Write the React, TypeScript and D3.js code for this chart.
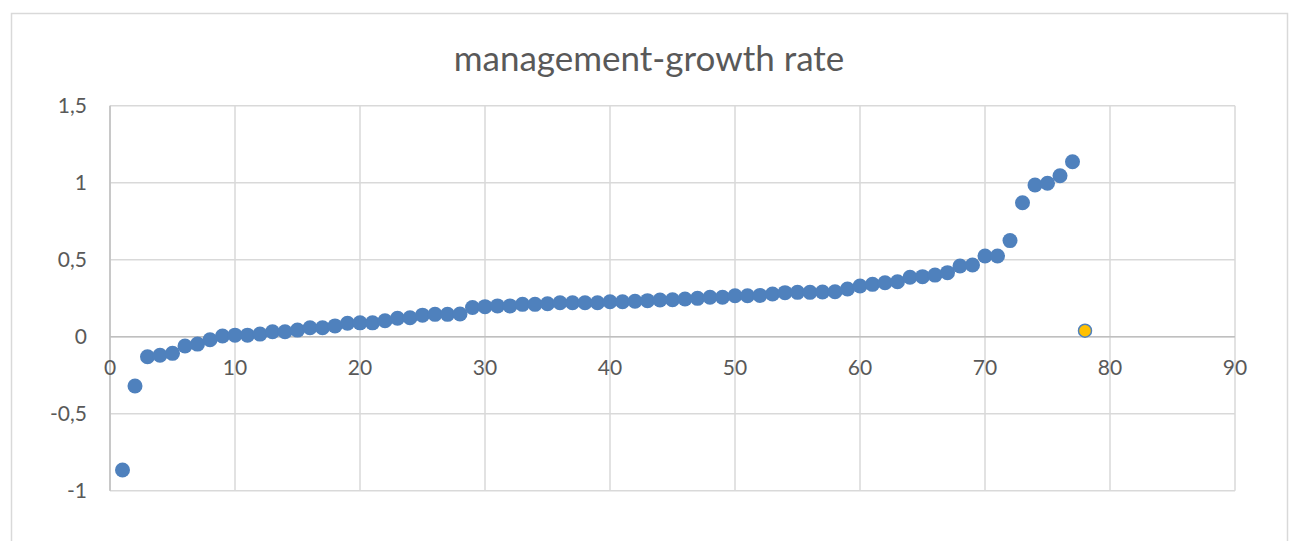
import * as d3 from 'd3';

// management-growth rate, sorted values (index 1..77), plus one highlighted point
const mainValues: number[] = [
  -0.866, -0.32, -0.13, -0.12, -0.108, -0.06, -0.048, -0.02, 0.005, 0.01,
  0.01, 0.017, 0.032, 0.032, 0.043, 0.058, 0.058, 0.07, 0.087, 0.09,
  0.09, 0.104, 0.12, 0.123, 0.14, 0.145, 0.145, 0.147, 0.19, 0.195,
  0.2, 0.2, 0.21, 0.21, 0.214, 0.22, 0.22, 0.22, 0.22, 0.227,
  0.227, 0.23, 0.234, 0.238, 0.24, 0.245, 0.249, 0.256, 0.256, 0.266,
  0.266, 0.268, 0.277, 0.286, 0.288, 0.288, 0.29, 0.292, 0.31, 0.329,
  0.34, 0.35, 0.357, 0.386, 0.39, 0.4, 0.416, 0.459, 0.466, 0.524,
  0.524, 0.624, 0.87, 0.985, 0.996, 1.045, 1.136,
];
const highlight = { x: 78, y: 0.039 };

const xTicks = [0, 10, 20, 30, 40, 50, 60, 70, 80, 90];
const yTicks = [-1, -0.5, 0, 0.5, 1, 1.5];
const title = 'management-growth rate';

const W = 1292;
const H = 541;
const plot = { left: 110, right: 1235, top: 105.7, bottom: 490.7 };
const font = 'Lato, "Open Sans", sans-serif';
const textColor = '#595959';
const gridColor = '#d9d9d9';

const App = () => {
  const x = d3.scaleLinear().domain([0, 90]).range([plot.left, plot.right]);
  const y = d3.scaleLinear().domain([-1, 1.5]).range([plot.bottom, plot.top]);
  const fmt = (v: number) => String(v).replace('.', ',');

  return (
    <svg
      width={W}
      height={H}
      viewBox={`0 0 ${W} ${H}`}
      style={{ position: 'absolute', left: 0, top: 0, background: '#fff' }}
    >
      <rect x={11.5} y={13.5} width={1276} height={H} fill="#fff" stroke={gridColor} strokeWidth={1.5} />
      <text
        x={649}
        y={71}
        textAnchor="middle"
        fontFamily={font}
        fontSize={35}
        fill={textColor}
      >
        {title}
      </text>

      {yTicks.map(t => (
        <line key={`gy${t}`} x1={plot.left} x2={plot.right} y1={y(t)} y2={y(t)} stroke={gridColor} strokeWidth={1.5} />
      ))}
      {xTicks.map(t => (
        <line key={`gx${t}`} x1={x(t)} x2={x(t)} y1={plot.top} y2={plot.bottom} stroke={gridColor} strokeWidth={1.5} />
      ))}
      <line x1={plot.left} x2={plot.left} y1={plot.top} y2={plot.bottom} stroke="#bfbfbf" strokeWidth={1.5} />
      <line x1={plot.left} x2={plot.right} y1={y(0)} y2={y(0)} stroke="#bfbfbf" strokeWidth={1.5} />

      {yTicks.map(t => (
        <text
          key={`ly${t}`}
          x={87}
          y={y(t)}
          dy="0.35em"
          textAnchor="end"
          fontFamily={font}
          fontSize={21}
          fill={textColor}
        >
          {fmt(t)}
        </text>
      ))}
      {xTicks.map(t => (
        <text
          key={`lx${t}`}
          x={x(t)}
          y={y(0) + 38}
          textAnchor="middle"
          fontFamily={font}
          fontSize={21}
          fill={textColor}
        >
          {t}
        </text>
      ))}

      {mainValues.map((v, i) => (
        <circle key={i} cx={x(i + 1)} cy={y(v)} r={7.5} fill="#4f81bd" />
      ))}
      <circle cx={x(highlight.x)} cy={y(highlight.y)} r={6.5} fill="#ffc000" stroke="#4f81bd" strokeWidth={1.5} />
    </svg>
  );
};

export default App;
